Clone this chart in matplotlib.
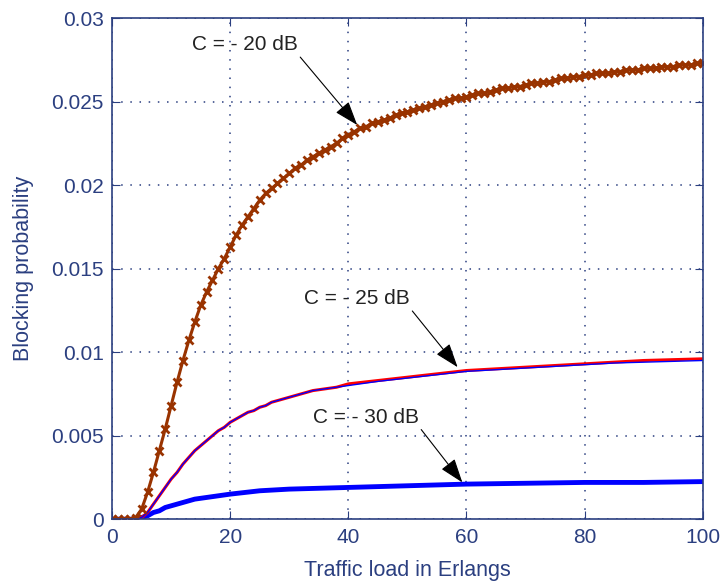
import matplotlib.pyplot as plt
from matplotlib.ticker import FixedLocator, FuncFormatter

plt.rcParams["font.family"] = ["Liberation Sans", "DejaVu Sans"]

# C = -20 dB, one value per Erlang from 0 to 100
load_20 = list(range(0, 101))
block_20 = [
    0.0, 0.0, 0.0, 0.0, 0.0001, 0.0006, 0.0016, 0.0028, 0.0041, 0.0054,
    0.0068, 0.0082, 0.0095, 0.0107, 0.0118, 0.0128, 0.0136, 0.0143, 0.0150, 0.0156,
    0.0163, 0.0170, 0.0176, 0.0181, 0.0186, 0.0191, 0.0195, 0.0198, 0.0201, 0.0204,
    0.0207, 0.0210, 0.0212, 0.0215, 0.0217, 0.0219, 0.0221, 0.0223, 0.0225, 0.0228,
    0.0230, 0.0232, 0.0234, 0.0235, 0.0237, 0.0238, 0.0239, 0.0240, 0.0242, 0.0243,
    0.0244, 0.0245, 0.0246, 0.0247, 0.0248, 0.0249, 0.0250, 0.0251, 0.0252, 0.0252,
    0.0253, 0.0254, 0.0255, 0.0255, 0.0256, 0.0257, 0.0258, 0.0258, 0.0259, 0.0259,
    0.0260, 0.0261, 0.0261, 0.0262, 0.0262, 0.0263, 0.0264, 0.0264, 0.0265, 0.0265,
    0.0266, 0.0266, 0.0267, 0.0267, 0.0267, 0.0268, 0.0268, 0.0269, 0.0269, 0.0269,
    0.0270, 0.0270, 0.0270, 0.0271, 0.0271, 0.0271, 0.0272, 0.0272, 0.0272, 0.0273,
    0.0273,
]

# C = -25 dB (two nearly identical curves)
load_25 = [0, 1, 2, 3, 4, 5, 6, 7, 8, 9, 10, 11, 12, 13, 14, 15, 16, 17, 18, 19,
           20, 21, 22, 23, 24, 25, 26, 27, 28, 29, 30, 32, 34, 36, 38, 40, 45, 50,
           55, 60, 65, 70, 75, 80, 85, 90, 95, 100]
block_25_red = [0.0, 0.0, 0.0, 0.0, 0.0, 0.0001, 0.0004, 0.0009, 0.0014, 0.0019,
                0.0024, 0.0028, 0.0033, 0.0037, 0.0041, 0.0044, 0.0047, 0.0050,
                0.0053, 0.0055, 0.0058, 0.0060, 0.0062, 0.0064, 0.0065, 0.0067,
                0.0068, 0.0070, 0.0071, 0.0072, 0.0073, 0.0075, 0.0077, 0.0078,
                0.0079, 0.0081, 0.0083, 0.0085, 0.0087, 0.0089, 0.0090, 0.0091,
                0.0092, 0.0093, 0.0094, 0.0095, 0.00955, 0.0096]
block_25_blue = [0.0, 0.0, 0.0, 0.0, 0.0, 0.0001, 0.0004, 0.0009, 0.0014, 0.0019,
                 0.0024, 0.0028, 0.0033, 0.0037, 0.0041, 0.0044, 0.0047, 0.0050,
                 0.0053, 0.0055, 0.0058, 0.0060, 0.0062, 0.0064, 0.0065, 0.0067,
                 0.0068, 0.0070, 0.0071, 0.0072, 0.0073, 0.0075, 0.0077, 0.0078,
                 0.0079, 0.0080, 0.00825, 0.00845, 0.00865, 0.00885, 0.00895,
                 0.00905, 0.00915, 0.00925, 0.00935, 0.0094, 0.00945, 0.0095]

# C = -30 dB
load_30 = [0, 1, 2, 3, 4, 5, 6, 7, 8, 9, 10, 12, 14, 16, 18, 20, 25, 30, 35, 40,
           50, 60, 70, 80, 90, 100]
block_30 = [0.0, 0.0, 0.0, 0.0, 0.0, 0.0001, 0.0002, 0.0004, 0.0005, 0.0007,
            0.0008, 0.0010, 0.0012, 0.0013, 0.0014, 0.0015, 0.0017, 0.0018,
            0.00185, 0.0019, 0.0020, 0.0021, 0.00215, 0.0022, 0.0022, 0.00225]

x_ticks = [0, 20, 40, 60, 80, 100]
y_ticks = [0, 0.005, 0.01, 0.015, 0.02, 0.025, 0.03]

axis_color = "#2b3f80"

fig = plt.figure(figsize=(7.23, 5.84), dpi=100)
ax = fig.add_axes([0.155, 0.111, 0.817, 0.858])

ax.plot(load_30, block_30, color="blue", linewidth=3.5)
ax.plot(load_25, block_25_red, color="red", linewidth=2.2)
ax.plot(load_25, block_25_blue, color="blue", linewidth=1.0)
ax.plot(load_20, block_20, color="#993300", linewidth=2.2, marker="x",
        markersize=6, markeredgewidth=2)

ax.set_xlim(0, 100)
ax.set_ylim(0, 0.03)
ax.xaxis.set_major_locator(FixedLocator(x_ticks))
ax.yaxis.set_major_locator(FixedLocator(y_ticks))
ax.yaxis.set_major_formatter(FuncFormatter(lambda v, p: f"{v:g}"))

ax.grid(True, linestyle=(0, (1, 5)), color=axis_color, linewidth=1.1)
ax.tick_params(direction="in", top=True, right=True, length=6,
               color=axis_color, labelcolor=axis_color, labelsize=15, pad=6)
for spine in ax.spines.values():
    spine.set_color(axis_color)
    spine.set_linewidth(1.2)

ax.set_xlabel("Traffic load in Erlangs", fontsize=15.5, color=axis_color,
              labelpad=10)
ax.set_ylabel("Blocking probability", fontsize=15.5, color=axis_color,
              labelpad=12)

arrow = dict(arrowstyle="-|>,head_length=1.0,head_width=0.35", color="black",
             linewidth=0.8, shrinkA=0, shrinkB=0)
ax.annotate("C = - 20 dB", xy=(41.5, 0.0236), xytext=(22.5, 0.0284),
            fontsize=15, color="#222222", ha="center", va="center",
            arrowprops=dict(arrow, relpos=(1.0, 0.0)))
ax.annotate("C = - 25 dB", xy=(58.5, 0.0091), xytext=(41.5, 0.0132),
            fontsize=15, color="#222222", ha="center", va="center",
            arrowprops=dict(arrow, relpos=(1.0, 0.0)))
ax.annotate("C = - 30 dB", xy=(59.3, 0.0022), xytext=(43.0, 0.0061),
            fontsize=15, color="#222222", ha="center", va="center",
            arrowprops=dict(arrow, relpos=(1.0, 0.0)))

fig.savefig("out.png", dpi=100)
